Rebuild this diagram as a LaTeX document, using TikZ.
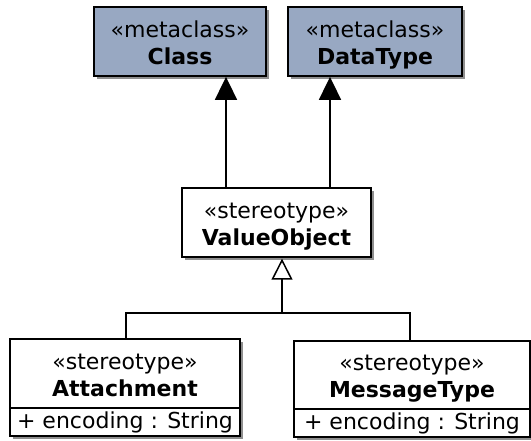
\documentclass[tikz,border=0pt]{standalone}
\usepackage{fontspec}
\setmainfont{DejaVu Sans}
\usetikzlibrary{arrows.meta,shadows}
\definecolor{metafill}{RGB}{152,168,194}
\newcommand\lowtext[1]{\raisebox{-3.5pt}[\height][\depth]{\begin{tabular}{@{}c@{}}#1\end{tabular}}}
\tikzset{
  umlbox/.style={draw=black, line width=1.8pt, rectangle, inner sep=0pt, align=center,
    fill=white, drop shadow={shadow xshift=2.5pt, shadow yshift=-2.5pt, fill=black!55, opacity=0.8},
    font=\fontsize{22}{28}\selectfont},
  metabox/.style={umlbox, fill=metafill},
  attrbox/.style={draw=black, line width=1.8pt, rectangle, inner sep=0pt, fill=white,
    font=\fontsize{22}{28}\selectfont},
  conn/.style={line width=1.8pt},
  assoc/.style={conn, -{Triangle[length=23pt,width=22pt]}},
  gen/.style={conn, -{Triangle[open,length=21pt,width=21pt,line width=1.5pt]}, shorten >=0.8pt}
}
\begin{document}
\begin{tikzpicture}[x=1pt,y=-1pt]
\useasboundingbox (0,0) rectangle (531,440);
\fill[white] (0,0) rectangle (531,440);
\node[metabox, minimum width=172pt, minimum height=69pt] (cls) at (180,41.5)
  {\lowtext{«metaclass»\\[-1pt]\textbf{Class}}};
\node[metabox, minimum width=174pt, minimum height=69pt] (dt) at (375,41.5)
  {\lowtext{«metaclass»\\[-1pt]\textbf{DataType}}};
\node[umlbox, minimum width=189pt, minimum height=69pt] (vo) at (276.5,222.5)
  {\lowtext{«stereotype»\\[-1pt]\textbf{ValueObject}}};
% Attachment
\node[umlbox, minimum width=230pt, minimum height=97pt, text height=0pt] (attbg) at (125,387.5) {};
\node[attrbox, minimum width=230pt, minimum height=69pt] (att) at (125,373.5)
  {\lowtext{«stereotype»\\[-1pt]\textbf{Attachment}}};
\node[attrbox, minimum width=230pt, minimum height=28pt] (atta) at (125,422)
  {+ encoding : String};
% MessageType
\node[umlbox, minimum width=236pt, minimum height=96pt, text height=0pt] (msgbg) at (412,389) {};
\node[attrbox, minimum width=236pt, minimum height=68pt] (msg) at (412,375)
  {\lowtext{«stereotype»\\[-1pt]\textbf{MessageType}}};
\node[attrbox, minimum width=236pt, minimum height=28pt] (msga) at (412,423)
  {+ encoding : String};
% connectors
\coordinate (ax1) at (226,0);
\coordinate (ax2) at (330,0);
\coordinate (jn) at (282,313);
\coordinate (jl) at (126,313);
\coordinate (jr) at (410,313);
\draw[assoc] (vo.north -| ax1) -- (cls.south -| ax1);
\draw[assoc] (vo.north -| ax2) -- (dt.south -| ax2);
\draw[gen] (jn) -- (vo.south -| jn);
\draw[conn] (att.north -| jl) -- (jl) -- (jr) -- (msg.north -| jr);
\end{tikzpicture}
\end{document}
